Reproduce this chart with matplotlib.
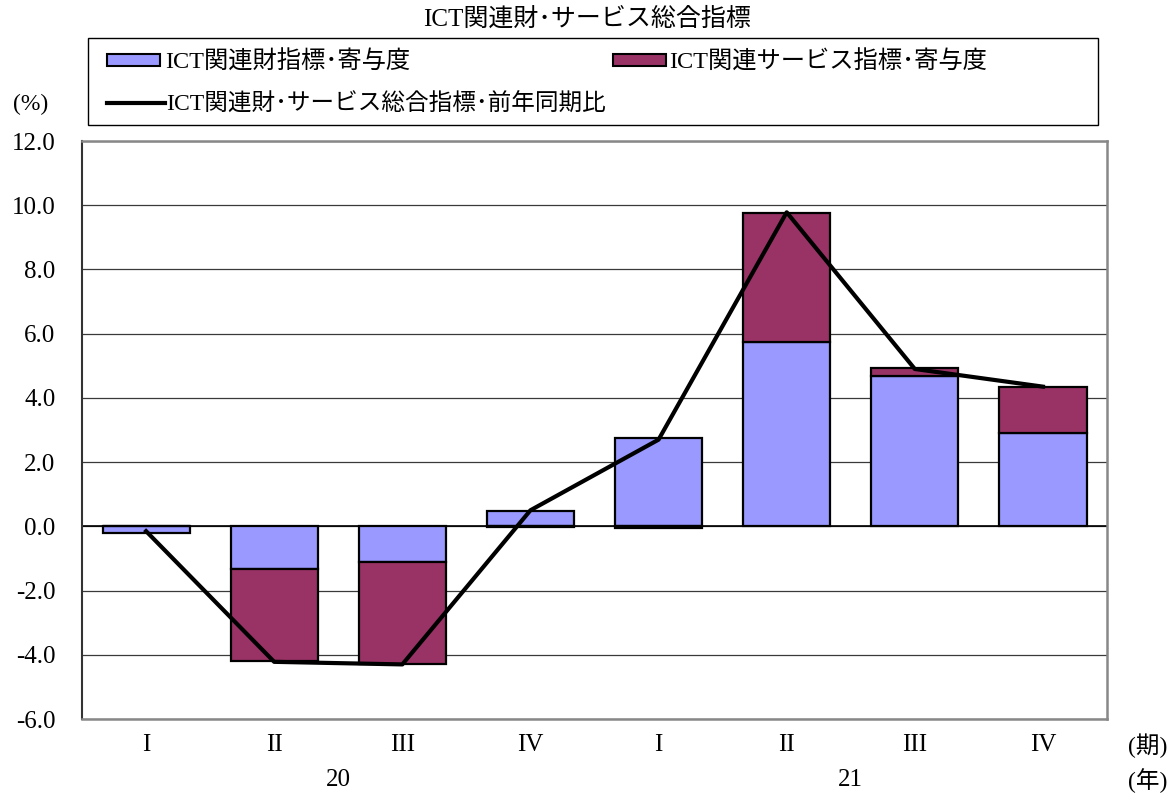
import numpy as np
import matplotlib.pyplot as plt
import matplotlib.transforms as mtransforms
from matplotlib.patches import Rectangle
from matplotlib.lines import Line2D

plt.rcParams['font.family'] = ['Liberation Serif', 'Noto Sans CJK JP']

# data
quarters = ['I', 'II', 'III', 'IV', 'I', 'II', 'III', 'IV']
years = ['20', '21']
goods = [-0.20, -1.34, -1.11, 0.48, 2.74, 5.73, 4.67, 2.90]
services = [0.00, -2.86, -3.19, -0.03, -0.06, 4.02, 0.25, 1.43]
total = [-0.15, -4.22, -4.30, 0.50, 2.70, 9.78, 4.90, 4.35]

c_goods = '#9999FF'
c_serv = '#993366'

W, H = 1176, 796
fig = plt.figure(figsize=(W / 100, H / 100), dpi=100)
ax = fig.add_axes([82/W, 1-719/H, 1025/W, 578/H])

x = np.arange(len(quarters))
g = np.array(goods)
s = np.array(services)
# stack positive and negative parts separately
s_bottom = np.where(np.sign(s) == np.sign(g), g, 0)

barWidth = 0.68
ax.bar(x, g, width=barWidth, color=c_goods, edgecolor='black', linewidth=1.6, zorder=3)
ax.bar(x, s, bottom=s_bottom, width=barWidth, color=c_serv, edgecolor='black', linewidth=1.6, zorder=3)
ax.plot(x, total, color='black', linewidth=3, zorder=4)

ax.set_xlim(-0.5, len(quarters) - 0.5)
ax.set_ylim(-6, 12)
ax.set_yticks(np.arange(-6, 12.1, 2))
ax.set_yticklabels(['%.1f' % v for v in np.arange(-6, 12.1, 2)], fontsize=18)
ax.set_xticks(x)
ax.set_xticklabels(quarters, fontsize=18)
ax.tick_params(axis='x', length=0, pad=11)
ax.tick_params(axis='y', length=0, pad=19)

ax.grid(axis='y', color='#3a3a3a', linewidth=0.9, zorder=0)
ax.axhline(0, color='black', linewidth=1.2, zorder=2)
for side in ['top', 'right', 'bottom']:
    ax.spines[side].set_color('#888888')
    ax.spines[side].set_linewidth(1.8)
ax.spines['left'].set_color('#333333')
ax.spines['left'].set_linewidth(1.5)

# year labels, centred under each year's quarters
trans = mtransforms.blended_transform_factory(ax.transData, fig.transFigure)
for i, yr in enumerate(years):
    ax.text(i * 4 + 1.5, 1-780/H, yr, transform=trans,
            ha='center', va='center', fontsize=18)

fig.text(1148/W, 1-746/H, '(期)', ha='center', va='center', fontsize=17)
fig.text(1148/W, 1-781/H, '(年)', ha='center', va='center', fontsize=17)
fig.text(31/W, 1-104/H, '(%)', ha='center', va='center', fontsize=17)
fig.text(587/W, 1-19/H, 'ICT関連財･サービス総合指標', ha='center', va='center', fontsize=18)

# legend box drawn by hand to match the original layout
def px(x0, y0):
    return (x0 / W, 1 - y0 / H)

fig.add_artist(Rectangle(px(88, 125), 1010/W, 87/H, transform=fig.transFigure,
                         facecolor='white', edgecolor='black', linewidth=1.0))
fig.add_artist(Rectangle(px(107, 66), 53/W, 12/H, transform=fig.transFigure,
                         facecolor=c_goods, edgecolor='black', linewidth=1.5))
fig.text(165/W, 1-62/H, 'ICT関連財指標･寄与度', ha='left', va='center', fontsize=17.5)
fig.add_artist(Rectangle(px(613, 66), 53/W, 12/H, transform=fig.transFigure,
                         facecolor=c_serv, edgecolor='black', linewidth=1.5))
fig.text(669/W, 1-62/H, 'ICT関連サービス指標･寄与度', ha='left', va='center', fontsize=17.5)
fig.add_artist(Line2D([107/W, 165/W], [1-103/H, 1-103/H], transform=fig.transFigure,
                      color='black', linewidth=3))
fig.text(166/W, 1-105/H, 'ICT関連財･サービス総合指標･前年同期比', ha='left', va='center', fontsize=17)

plt.savefig('out.png', dpi=100)
